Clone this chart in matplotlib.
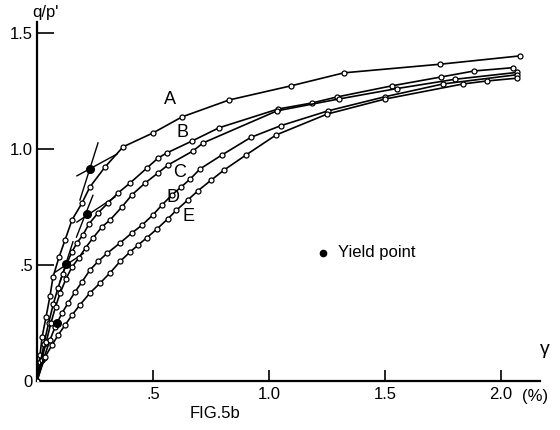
import matplotlib
matplotlib.use("Agg")
import matplotlib.pyplot as plt

plt.rcParams['font.family'] = ['Liberation Sans', 'DejaVu Sans']

# curve data (gamma in %, q/p')
gamma_A = [0, 0.013, 0.022, 0.039, 0.056, 0.069, 0.095, 0.121, 0.151, 0.194, 0.228,
           0.293, 0.371, 0.5, 0.625, 0.828, 1.095, 1.323, 1.737, 2.082]
ratio_A = [0, 0.112, 0.19, 0.276, 0.366, 0.448, 0.534, 0.608, 0.694, 0.767, 0.836,
           0.922, 1.009, 1.069, 1.138, 1.211, 1.272, 1.328, 1.365, 1.401]

gamma_B = [0, 0.015, 0.03, 0.05, 0.07, 0.09, 0.11, 0.13, 0.15, 0.172, 0.198, 0.224,
           0.263, 0.306, 0.349, 0.401, 0.474, 0.522, 0.560, 0.668, 0.784, 1.039,
           1.185, 1.293, 1.53, 1.741, 1.884, 2.05]
ratio_B = [0, 0.08, 0.16, 0.25, 0.33, 0.40, 0.46, 0.51, 0.555, 0.595, 0.629, 0.677,
           0.724, 0.767, 0.81, 0.853, 0.918, 0.961, 0.983, 1.034, 1.091, 1.172,
           1.198, 1.224, 1.272, 1.31, 1.336, 1.35]

gamma_C = [0, 0.02, 0.04, 0.06, 0.08, 0.10, 0.125, 0.15, 0.18, 0.21, 0.241, 0.28,
           0.315, 0.366, 0.409, 0.466, 0.522, 0.565, 0.672, 0.716, 1.034, 1.30,
           1.55, 1.80, 2.07]
ratio_C = [0, 0.09, 0.17, 0.25, 0.32, 0.38, 0.44, 0.49, 0.53, 0.575, 0.616, 0.664,
           0.694, 0.75, 0.802, 0.853, 0.897, 0.931, 0.991, 1.026, 1.164, 1.215,
           1.26, 1.30, 1.33]

gamma_D = [0, 0.03, 0.056, 0.078, 0.108, 0.134, 0.164, 0.194, 0.228, 0.263, 0.302,
           0.358, 0.409, 0.453, 0.50, 0.539, 0.58, 0.62, 0.66, 0.703, 0.797, 0.922,
           1.05, 1.254, 1.50, 1.75, 2.07]
ratio_D = [0, 0.1, 0.177, 0.233, 0.293, 0.336, 0.384, 0.427, 0.478, 0.515, 0.55,
           0.595, 0.638, 0.672, 0.716, 0.759, 0.80, 0.835, 0.87, 0.914, 0.974, 1.05,
           1.10, 1.164, 1.225, 1.28, 1.32]

gamma_E = [0, 0.034, 0.065, 0.091, 0.121, 0.151, 0.185, 0.228, 0.272, 0.315, 0.358,
           0.401, 0.435, 0.474, 0.517, 0.565, 0.60, 0.65, 0.694, 0.75, 0.806, 0.901,
           1.03, 1.25, 1.50, 1.836, 1.94, 2.07]
ratio_E = [0, 0.103, 0.155, 0.198, 0.241, 0.284, 0.328, 0.379, 0.422, 0.466, 0.515,
           0.556, 0.585, 0.618, 0.655, 0.70, 0.735, 0.78, 0.82, 0.865, 0.909, 0.974,
           1.06, 1.15, 1.215, 1.28, 1.293, 1.305]

curves = [("A", gamma_A, ratio_A), ("B", gamma_B, ratio_B), ("C", gamma_C, ratio_C),
          ("D", gamma_D, ratio_D), ("E", gamma_E, ratio_E)]

# yield points and the tangent construction lines
yield_gamma = [0.228, 0.216, 0.125, 0.086]
yield_ratio = [0.914, 0.72, 0.504, 0.25]
tangent_gamma = [(0.185, 0.263), (0.172, 0.345), (0.17, 0.241), (0.172, 0.336),
                 (0.10, 0.155), (0.08, 0.20)]
tangent_ratio = [(0.78, 1.026), (0.884, 0.978), (0.62, 0.80), (0.685, 0.793),
                 (0.43, 0.60), (0.47, 0.55)]

label_pos = {"A": (0.573, 1.211), "B": (0.625, 1.069), "C": (0.616, 0.897),
             "D": (0.586, 0.789), "E": (0.651, 0.707)}

fig = plt.figure(figsize=(5.6, 4.3), dpi=100)
ax = fig.add_axes([37 / 560, 49 / 430, 503 / 560, 359 / 430])

for name, g, r in curves:
    ax.plot(g, r, color='black', lw=1.2, marker='o', ms=3.6,
            mfc='white', mec='black', mew=0.9, zorder=3)
    ax.text(*label_pos[name], name, fontsize=13, ha='center', va='center')

for g, r in zip(tangent_gamma, tangent_ratio):
    ax.plot(g, r, color='black', lw=1.0, zorder=2)

ax.plot(yield_gamma, yield_ratio, 'o', color='black', ms=5.5, zorder=4)

# legend
ax.plot([1.233], [0.552], 'o', color='black', ms=4.5)
ax.text(1.297, 0.552, "Yield point", fontsize=12, va='center')

ax.set_xlim(0, 2.168)
ax.set_ylim(0, 1.547)
for s in ['top', 'right']:
    ax.spines[s].set_visible(False)
for s in ['left', 'bottom']:
    ax.spines[s].set_linewidth(1.6)

ax.set_xticks([0.5, 1.0, 1.5, 2.0])
ax.set_xticklabels(['.5', '1.0', '1.5', '2.0'])
ax.set_yticks([0, 0.5, 1.0, 1.5])
ax.set_yticklabels(['0', '.5', '1.0', '1.5'])
ax.tick_params(axis='x', direction='in', length=8, width=1.2, labelsize=12, pad=4)
ax.tick_params(axis='y', direction='in', length=12, width=1.2, labelsize=12, pad=3)

fig.text(45 / 560, 1 - 12 / 430, "q/p'", fontsize=12, ha='center', va='center')
fig.text(545 / 560, 1 - 350 / 430, "γ", fontsize=14, ha='center', va='center')
fig.text(535 / 560, 1 - 397 / 430, "(%)", fontsize=12, ha='center', va='center')
fig.text(215 / 560, 1 - 413 / 430, "FIG.5b", fontsize=12, ha='center', va='center')

fig.savefig("out.png", dpi=100)
